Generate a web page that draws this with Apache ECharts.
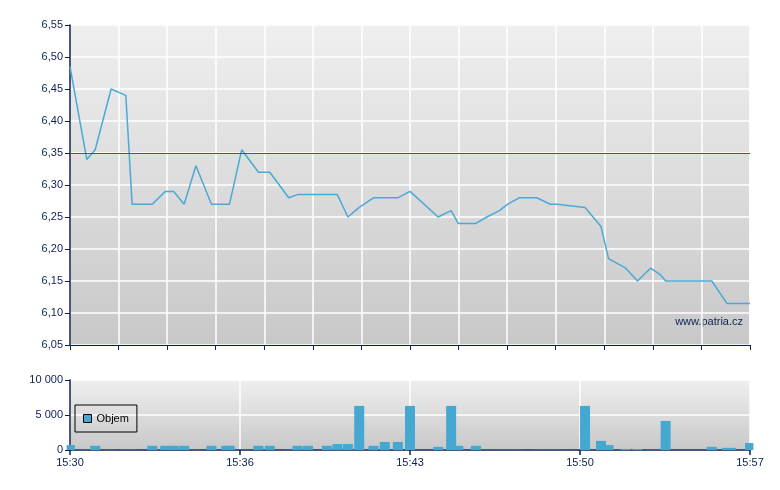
<!DOCTYPE html>
<html>
<head>
<meta charset="utf-8">
<script src="https://cdn.jsdelivr.net/npm/echarts@6/dist/echarts.min.js"></script>
<style>html,body{margin:0;padding:0;background:#fff}#c{width:780px;height:490px}</style>
</head>
<body>
<div id="c"></div>
<script>
// trade times
var times = ["15:30:00","15:30:40","15:31:00","15:31:38","15:32:13","15:32:28","15:33:16","15:33:47","15:34:07","15:34:32",
"15:35:00","15:35:37","15:36:12","15:36:20","15:36:49","15:37:29","15:37:56","15:38:41","15:39:02","15:39:27",
"15:40:12","15:40:37","15:41:02","15:41:29","15:42:03","15:42:30","15:43:01","15:43:30","15:44:37","15:45:08",
"15:45:25","15:46:07","15:46:33","15:47:03","15:47:23","15:47:50","15:48:32","15:49:04","15:49:20","15:50:27",
"15:51:05","15:51:23","15:52:04","15:52:32","15:53:03","15:53:26","15:53:39","15:55:29","15:56:05","15:56:15","15:57:00"];
// prices
var prices = [6.485,6.34,6.355,6.45,6.44,6.27,6.27,6.29,6.29,6.27,
6.33,6.27,6.27,6.27,6.355,6.32,6.32,6.28,6.285,6.285,
6.285,6.285,6.25,6.265,6.28,6.28,6.28,6.29,6.25,6.26,
6.24,6.24,6.25,6.26,6.27,6.28,6.28,6.27,6.27,6.265,
6.235,6.185,6.17,6.15,6.17,6.16,6.15,6.15,6.115,6.115,6.115];
// volumes
var volumes = [700,20,600,20,20,20,600,600,600,600,
20,600,600,600,20,600,600,20,600,600,
600,850,850,6300,600,1150,1150,6300,450,6300,
600,600,20,20,20,20,20,20,20,6300,
1300,700,150,150,20,20,4150,450,300,300,1000];
var refPrice = 6.35;
var priceTicks = ["6,05","6,10","6,15","6,20","6,25","6,30","6,35","6,40","6,45","6,50","6,55"];
var volTicks = ["0","5 000","10 000"];
var startTime = "15:30:00";

function toMin(t){var p=t.split(":").map(Number);var s=startTime.split(":").map(Number);
  return (p[0]*3600+p[1]*60+p[2]-(s[0]*3600+s[1]*60+s[2]))/60;}
var priceData = times.map(function(t,i){return [toMin(t),prices[i]];});
var volData = times.map(function(t,i){return [toMin(t),volumes[i]];});

var navy = '#0d2150';
var bg = {type:'linear',x:0,y:0,x2:0,y2:1,colorStops:[{offset:0,color:'#efefef'},{offset:1,color:'#c8c8c8'}]};
var font = 'Liberation Sans, Arial, sans-serif';

var chart = echarts.init(document.getElementById('c'));
chart.setOption({
  animation:false,
  backgroundColor:'#fff',
  grid:[
    {left:70,top:25,width:680,height:320,show:true,backgroundColor:bg,borderWidth:0},
    {left:70,top:380,width:680,height:70,show:true,backgroundColor:bg,borderWidth:0}
  ],
  xAxis:[
    {type:'value',gridIndex:0,min:0,max:27,interval:27/14,
     axisLine:{lineStyle:{color:navy,width:1}},axisTick:{show:true,length:5,lineStyle:{color:navy}},
     axisLabel:{show:false},splitLine:{show:true,lineStyle:{color:'#ffffff',width:1.5}}},
    {type:'value',gridIndex:1,min:0,max:27,interval:6.75,
     axisLine:{lineStyle:{color:navy,width:1.5}},axisTick:{show:true,length:5,lineStyle:{color:navy,width:1.5}},
     axisLabel:{show:true,color:navy,fontSize:11,fontFamily:font,margin:7,
       formatter:function(v){var m=30+Math.floor(v+1e-6);return '15:'+(m<10?'0'+m:m);}},
     splitLine:{show:true,lineStyle:{color:'#ffffff',width:1.5}}}
  ],
  yAxis:[
    {type:'value',gridIndex:0,min:6.05,max:6.55,interval:0.05,
     axisLine:{show:true,lineStyle:{color:navy,width:1.5}},axisTick:{show:true,length:5,lineStyle:{color:navy}},
     axisLabel:{color:navy,fontSize:11,fontFamily:font,margin:7,
       formatter:function(v){return priceTicks[Math.round((v-6.05)/0.05)];}},
     splitLine:{show:true,lineStyle:{color:'#ffffff',width:1.5}}},
    {type:'value',gridIndex:1,min:0,max:10000,interval:5000,
     axisLine:{show:true,lineStyle:{color:navy,width:1.5}},axisTick:{show:true,length:5,lineStyle:{color:navy}},
     axisLabel:{color:navy,fontSize:11,fontFamily:font,margin:7,
       formatter:function(v){return volTicks[Math.round(v/5000)];}},
     splitLine:{show:true,lineStyle:{color:'#ffffff',width:1.5}}}
  ],
  legend:{data:['Objem'],left:75,top:405,orient:'vertical',padding:[8,8,8,8],
    borderColor:'#000',borderWidth:1,borderRadius:0,itemWidth:8,itemHeight:8,icon:'rect',
    itemStyle:{borderColor:'#000',borderWidth:1},
    textStyle:{color:'#000',fontSize:11,fontFamily:font}},
  graphic:[{type:'text',right:37,top:316,style:{text:'www.patria.cz',fill:navy,font:'11px '+font}}],
  series:[
    {name:'Cena',type:'line',xAxisIndex:0,yAxisIndex:0,data:priceData,showSymbol:false,
     lineStyle:{color:'#4aa9d5',width:1.5},itemStyle:{color:'#4aa9d5'},
     markLine:{silent:true,symbol:'none',label:{show:false},
       lineStyle:{color:'#a83232',width:1,type:'solid'},data:[{yAxis:refPrice}]}},
    {name:'Objem',type:'bar',xAxisIndex:1,yAxisIndex:1,data:volData,barWidth:10,clip:true,
     itemStyle:{color:'#46a8d0'}}
  ]
});
</script>
</body>
</html>
